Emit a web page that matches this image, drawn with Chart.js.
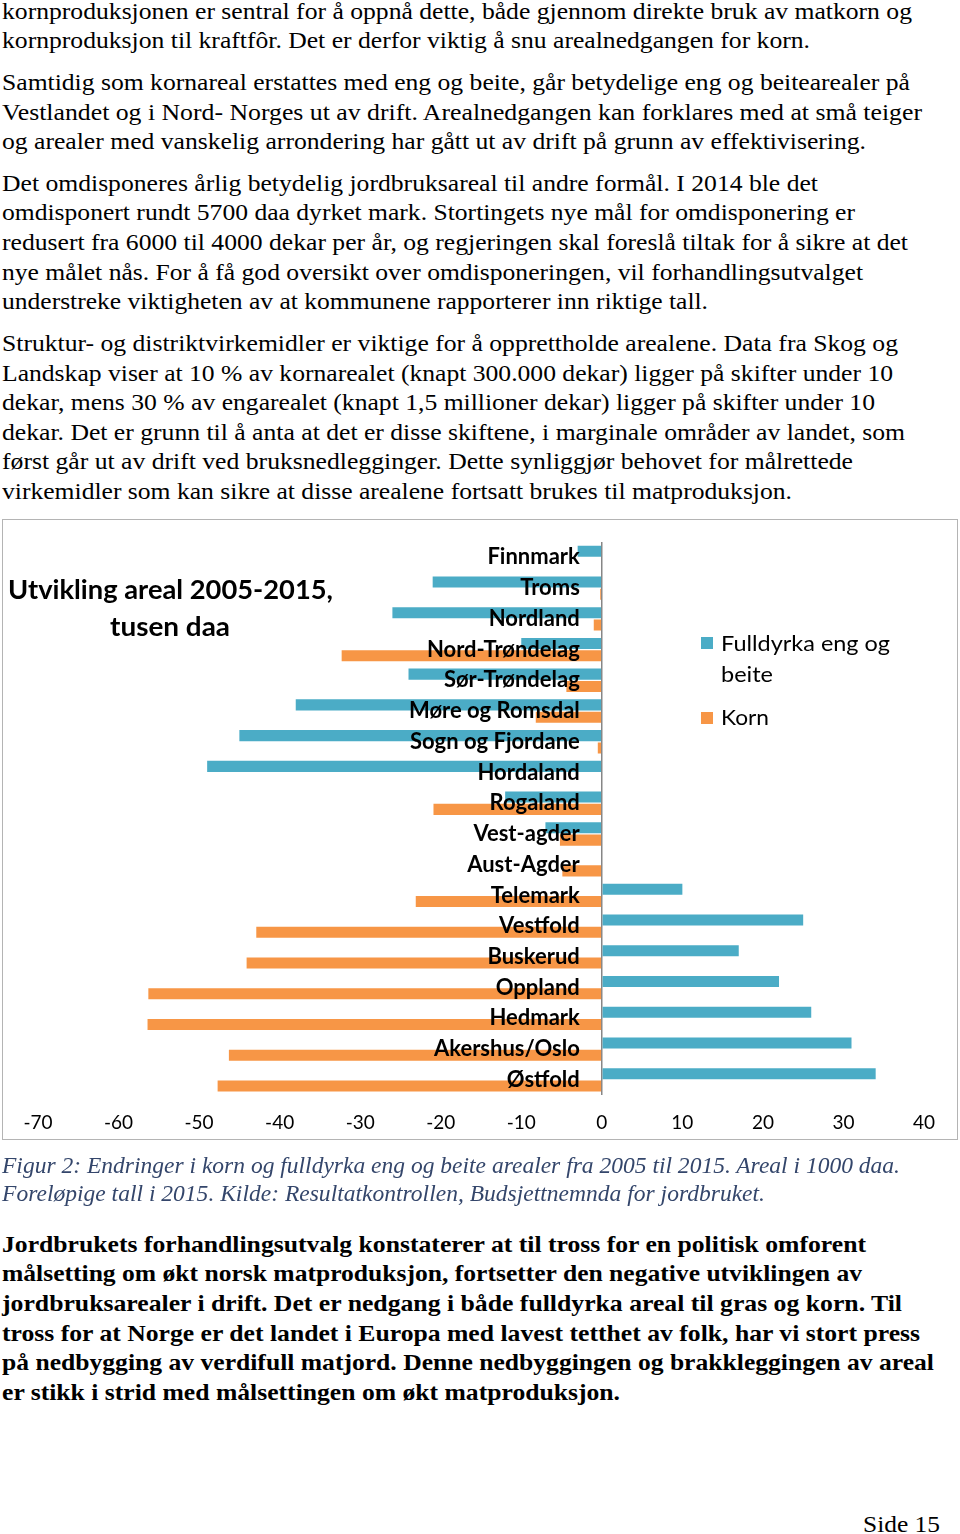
<!DOCTYPE html>
<html>
<head>
<meta charset="utf-8">
<script src="https://cdn.jsdelivr.net/npm/chart.js@4"></script>
<style>
  body { margin: 0; background: #fff; }
  #page { position: relative; width: 960px; height: 1534px; overflow: hidden; }
  .ln { position: absolute; left: 2px; white-space: nowrap; transform-origin: 0 50%;
        font-family: "Liberation Serif", serif; font-size: 24px; line-height: 30px; color: #000; }
  .cap { font-style: italic; color: #34466b; font-size: 23px; }
  .bold { font-weight: bold; }
  .cl { position: absolute; white-space: nowrap; transform-origin: 0 50%;
        font-family: Lato, sans-serif; line-height: 30px; color: #000; }
  .sq { position: absolute; width: 12px; height: 12px; }
  #box { position: absolute; left: 2px; top: 519px; width: 956px; height: 621px;
         border: 1px solid #b4b4b4; box-sizing: border-box; }
  #chart { position: absolute; left: 3px; top: 520px; }
</style>
</head>
<body>
<div id="page">
  <div class="ln" style="top:-4px" data-w="910">kornproduksjonen er sentral for å oppnå dette, både gjennom direkte bruk av matkorn og</div>
  <div class="ln" style="top:25px" data-w="808">kornproduksjon til kraftfôr. Det er derfor viktig å snu arealnedgangen for korn.</div>

  <div class="ln" style="top:67px" data-w="908">Samtidig som kornareal erstattes med eng og beite, går betydelige eng og beitearealer på</div>
  <div class="ln" style="top:97px" data-w="920">Vestlandet og i Nord- Norges ut av drift. Arealnedgangen kan forklares med at små teiger</div>
  <div class="ln" style="top:126px" data-w="864">og arealer med vanskelig arrondering har gått ut av drift på grunn av effektivisering.</div>

  <div class="ln" style="top:168px" data-w="816">Det omdisponeres årlig betydelig jordbruksareal til andre formål. I 2014 ble det</div>
  <div class="ln" style="top:197px" data-w="853">omdisponert rundt 5700 daa dyrket mark. Stortingets nye mål for omdisponering er</div>
  <div class="ln" style="top:227px" data-w="906">redusert fra 6000 til 4000 dekar per år, og regjeringen skal foreslå tiltak for å sikre at det</div>
  <div class="ln" style="top:257px" data-w="861">nye målet nås. For å få god oversikt over omdisponeringen, vil forhandlingsutvalget</div>
  <div class="ln" style="top:286px" data-w="706">understreke viktigheten av at kommunene rapporterer inn riktige tall.</div>

  <div class="ln" style="top:328px" data-w="896">Struktur- og distriktvirkemidler er viktige for å opprettholde arealene. Data fra Skog og</div>
  <div class="ln" style="top:358px" data-w="891">Landskap viser at 10 % av kornarealet (knapt 300.000 dekar) ligger på skifter under 10</div>
  <div class="ln" style="top:387px" data-w="873">dekar, mens 30 % av engarealet (knapt 1,5 millioner dekar) ligger på skifter under 10</div>
  <div class="ln" style="top:417px" data-w="903">dekar. Det er grunn til å anta at det er disse skiftene, i marginale områder av landet, som</div>
  <div class="ln" style="top:446px" data-w="851">først går ut av drift ved bruksnedlegginger. Dette synliggjør behovet for målrettede</div>
  <div class="ln" style="top:476px" data-w="790">virkemidler som kan sikre at disse arealene fortsatt brukes til matproduksjon.</div>

  <div id="box"></div>
  <canvas id="chart" width="954" height="636"></canvas>

  <div class="cl" style="left:8px;top:574px;font-size:27px;font-weight:bold" data-w="325">Utvikling areal 2005-2015,</div>
  <div class="cl" style="left:110px;top:611px;font-size:27px;font-weight:bold" data-w="120">tusen daa</div>

  <div class="sq" style="left:701px;top:637px;background:#4bacc6"></div>
  <div class="cl" style="left:721px;top:628px;font-size:22px" data-w="169">Fulldyrka eng og</div>
  <div class="cl" style="left:721px;top:659px;font-size:22px" data-w="52">beite</div>
  <div class="sq" style="left:701px;top:712px;background:#f79646"></div>
  <div class="cl" style="left:721px;top:702px;font-size:22px" data-w="48">Korn</div>

  <div class="ln cap" style="top:1151px" data-w="898">Figur 2: Endringer i korn og fulldyrka eng og beite arealer fra 2005 til 2015. Areal i 1000 daa.</div>
  <div class="ln cap" style="top:1179px" data-w="763">Foreløpige tall i 2015. Kilde: Resultatkontrollen, Budsjettnemnda for jordbruket.</div>

  <div class="ln bold" style="top:1229px" data-w="864">Jordbrukets forhandlingsutvalg konstaterer at til tross for en politisk omforent</div>
  <div class="ln bold" style="top:1258px" data-w="860">målsetting om økt norsk matproduksjon, fortsetter den negative utviklingen av</div>
  <div class="ln bold" style="top:1288px" data-w="900">jordbruksarealer i drift. Det er nedgang i både fulldyrka areal til gras og korn. Til</div>
  <div class="ln bold" style="top:1318px" data-w="918">tross for at Norge er det landet i Europa med lavest tetthet av folk, har vi stort press</div>
  <div class="ln bold" style="top:1347px" data-w="932">på nedbygging av verdifull matjord. Denne nedbyggingen og brakkleggingen av areal</div>
  <div class="ln bold" style="top:1377px" data-w="618">er stikk i strid med målsettingen om økt matproduksjon.</div>

  <div class="ln" style="left:863px;top:1509px" data-w="77">Side 15</div>
</div>

<script>
// Fylker, top to bottom as in the figure
const fylker = [
  'Finnmark', 'Troms', 'Nordland', 'Nord-Trøndelag', 'Sør-Trøndelag',
  'Møre og Romsdal', 'Sogn og Fjordane', 'Hordaland', 'Rogaland', 'Vest-agder',
  'Aust-Agder', 'Telemark', 'Vestfold', 'Buskerud', 'Oppland', 'Hedmark',
  'Akershus/Oslo', 'Østfold'
];

// Endring 2005-2015, tusen daa
const fulldyrka = [-3, -21, -26, -10, -24, -38, -45, -49, -12, -7, 0, 10, 25, 17, 22, 26, 31, 34];
const korn = [0, -0.2, -1, -32.3, -4.4, -8.2, -0.5, 0, -20.9, -5.2, -4.9, -23.1, -42.9, -44.1, -56.3, -56.4, -46.3, -47.7];

// x axis ticks
const xMin = -70;
const xMax = 40;
const xStep = 10;

// fit each text line to the width it has in the scanned page
document.querySelectorAll('[data-w]').forEach(el => {
  const w = el.getBoundingClientRect().width;
  el.style.transform = 'scaleX(' + (el.dataset.w / w) + ')';
});

// Category names drawn just left of the zero line, on top of the bars
const zeroLabels = {
  id: 'zeroLabels',
  afterDatasetsDraw(chart) {
    const {ctx, scales: {x, y}} = chart;
    ctx.save();
    ctx.font = 'bold 22px Lato';
    ctx.fillStyle = '#000';
    ctx.textAlign = 'right';
    ctx.textBaseline = 'middle';
    const x0 = x.getPixelForValue(0) - 22;
    chart.data.labels.forEach((lab, i) => {
      ctx.fillText(lab, x0, y.getPixelForValue(i));
    });
    ctx.restore();
  }
};

new Chart(document.getElementById('chart'), {
  type: 'bar',
  data: {
    labels: fylker,
    datasets: [
      {label: 'Fulldyrka eng og beite', data: fulldyrka, backgroundColor: '#4bacc6'},
      {label: 'Korn', data: korn, backgroundColor: '#f79646'}
    ]
  },
  options: {
    indexAxis: 'y',
    responsive: false,
    animation: false,
    layout: {padding: {left: 35, right: 33, top: 22, bottom: 6}},
    plugins: {legend: {display: false}, tooltip: {enabled: false}},
    scales: {
      x: {
        min: xMin,
        max: xMax,
        ticks: {stepSize: xStep, padding: 16, color: '#000', font: {family: 'Lato', size: 19}},
        grid: {
          drawTicks: false,
          color: c => (c.tick && c.tick.value === 0) ? '#868686' : 'rgba(0,0,0,0)',
          lineWidth: 1.5
        },
        border: {display: false}
      },
      y: {display: false}
    }
  },
  plugins: [zeroLabels]
});
</script>
</body>
</html>
